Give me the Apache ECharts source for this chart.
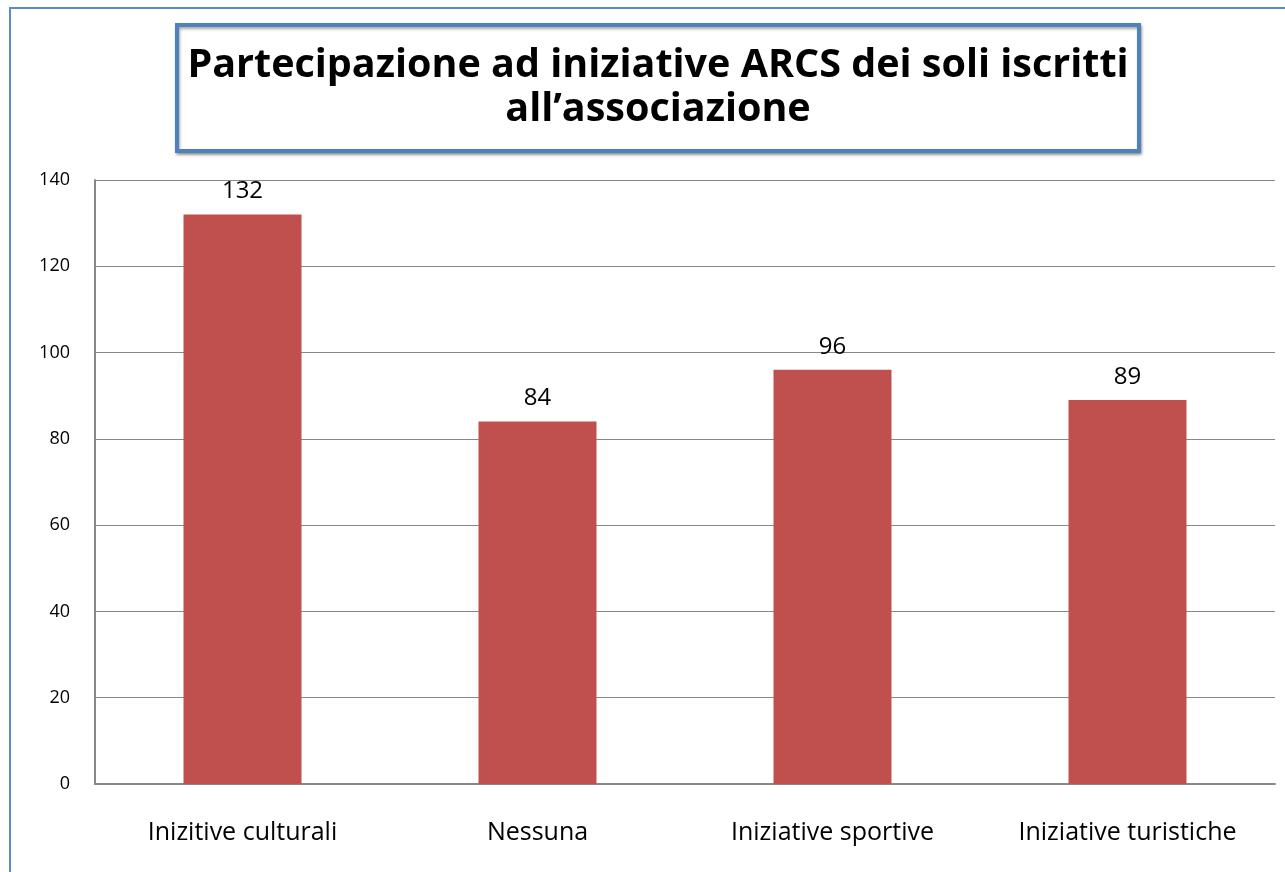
<!DOCTYPE html>
<html>
<head>
<meta charset="utf-8">
<script src="https://cdn.jsdelivr.net/npm/echarts@6/dist/echarts.min.js"></script>
<style>
  html, body { margin: 0; padding: 0; background: #fff; }
  #chart { width: 1285px; height: 872px; }
</style>
</head>
<body>
<div id="chart"></div>
<script>
const categories = ['Inizitive culturali', 'Nessuna', 'Iniziative sportive', 'Iniziative turistiche']
const values = [132, 84, 96, 89]
const yTicks = { min: 0, max: 140, interval: 20 }

const font = '"Open Sans", "Liberation Sans", sans-serif'

const chart = echarts.init(document.getElementById('chart'))

const option = {
  backgroundColor: '#fff',
  animation: false,
  title: {
    text: 'Partecipazione ad iniziative ARCS dei soli iscritti\nall\u2019associazione',
    left: 653,
    top: 39,
    textAlign: 'center',
    textStyle: {
      fontFamily: font,
      fontWeight: 'bold',
      fontSize: 39.5,
      lineHeight: 44,
      color: '#000'
    }
  },
  graphic: [
    {
      type: 'rect',
      shape: { x: 10, y: 8, width: 1290, height: 880 },
      style: { fill: 'none', stroke: '#5E8BC4', lineWidth: 2 },
      silent: true,
      z: -1
    },
    {
      type: 'rect',
      shape: { x: 177, y: 25, width: 962, height: 126 },
      style: {
        fill: '#fff',
        stroke: '#4F81BD',
        lineWidth: 4,
        shadowBlur: 3,
        shadowOffsetX: 1,
        shadowOffsetY: 2,
        shadowColor: 'rgba(0,0,0,0.35)'
      },
      silent: true,
      z: -1
    }
  ],
  grid: {
    left: 95,
    right: 10,
    top: 180,
    bottom: 88
  },
  xAxis: {
    type: 'category',
    data: categories,
    axisTick: { show: false },
    axisLine: { lineStyle: { color: '#888', width: 2 } },
    axisLabel: {
      margin: 36,
      fontFamily: font,
      fontSize: 25,
      color: '#000'
    }
  },
  yAxis: {
    type: 'value',
    min: yTicks.min,
    max: yTicks.max,
    interval: yTicks.interval,
    axisLine: { show: true, lineStyle: { color: '#888', width: 2 } },
    axisTick: { show: false },
    splitLine: { lineStyle: { color: '#888', width: 1 } },
    axisLabel: {
      margin: 25,
      fontFamily: font,
      fontSize: 18,
      color: '#000'
    }
  },
  series: [
    {
      type: 'bar',
      data: values,
      barWidth: '40%',
      itemStyle: { color: '#C0504D' },
      label: {
        show: true,
        position: 'top',
        distance: 11,
        fontFamily: font,
        fontSize: 24,
        color: '#000'
      }
    }
  ]
}

chart.setOption(option)
</script>
</body>
</html>
